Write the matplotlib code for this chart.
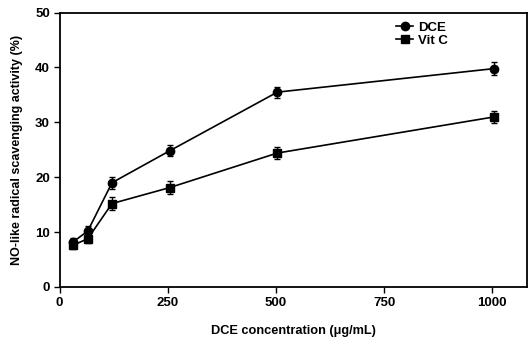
import matplotlib
matplotlib.use('Agg')
import matplotlib.pyplot as plt
from matplotlib.lines import Line2D

# concentrations (ug/mL) as placed on the chart
conc = [31, 65, 121, 254, 503, 1005]

dce = [8.2, 10.2, 19.0, 24.8, 35.5, 39.8]
dce_err = [0.8, 0.9, 1.1, 1.0, 1.0, 1.2]

vitc = [7.6, 8.8, 15.2, 18.1, 24.4, 31.0]
vitc_err = [0.7, 0.8, 1.2, 1.2, 1.1, 1.1]

xticks = [0, 250, 500, 750, 1000]
yticks = [0, 10, 20, 30, 40, 50]

plt.rcParams['font.family'] = ['Liberation Sans', 'DejaVu Sans']
plt.rcParams['font.weight'] = 'bold'

fig = plt.figure(figsize=(5.28, 3.4), dpi=100)
ax = fig.add_axes([0.113, 0.156, 0.885, 0.807])

ax.errorbar(conc, dce, yerr=dce_err, color='black', marker='o', markersize=6,
            linewidth=1.2, capsize=2.5, elinewidth=1)
ax.errorbar(conc, vitc, yerr=vitc_err, color='black', marker='s', markersize=6,
            linewidth=1.2, capsize=2.5, elinewidth=1)

ax.set_xlim(0, 1080)
ax.set_ylim(0, 50)
ax.set_xticks(xticks)
ax.set_yticks(yticks)
ax.tick_params(direction='out', length=4, width=1, labelsize=9.5, pad=3)
for lab in ax.get_xticklabels() + ax.get_yticklabels():
    lab.set_fontweight('bold')
for sp in ax.spines.values():
    sp.set_linewidth(1.3)

ax.set_xlabel('DCE concentration (μg/mL)', fontsize=9.2, fontweight='bold', labelpad=12)
ax.set_ylabel('NO-like radical scavenging activity (%)', fontsize=9, fontweight='bold', labelpad=9)

handles = [Line2D([], [], color='black', marker='o', markersize=6, linewidth=1.2),
           Line2D([], [], color='black', marker='s', markersize=6, linewidth=1.2)]
ax.legend(handles, ['DCE', 'Vit C'], loc='upper left', bbox_to_anchor=(0.7, 1.0),
          frameon=False, fontsize=9.5, handlelength=1.3, handletextpad=0.4,
          labelspacing=0.05, borderaxespad=0.3)

fig.savefig('out.png', dpi=100)
